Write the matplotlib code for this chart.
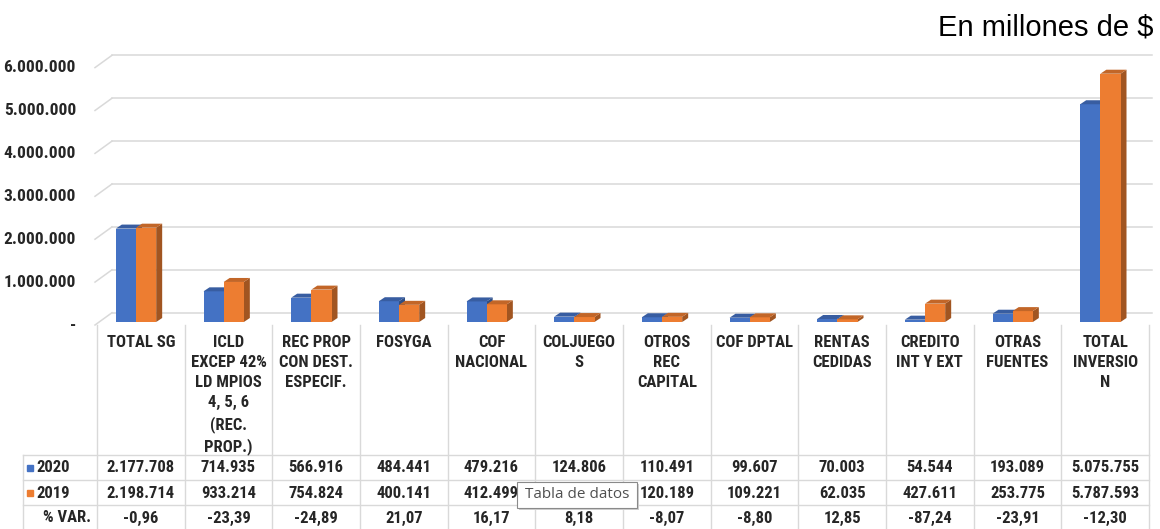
import matplotlib
matplotlib.use("Agg")
import matplotlib.pyplot as plt
from matplotlib import font_manager
from matplotlib.patches import Polygon, Rectangle

# data (values in millions of $)
categories = ["TOTAL SG", "ICLD\nEXCEP 42%\nLD MPIOS\n4, 5, 6\n(REC.\nPROP.)",
              "REC PROP\nCON DEST.\nESPECIF.", "FOSYGA", "COF\nNACIONAL",
              "COLJUEGO\nS", "OTROS\nREC\nCAPITAL", "COF DPTAL", "RENTAS\nCEDIDAS",
              "CREDITO\nINT Y EXT", "OTRAS\nFUENTES", "TOTAL\nINVERSIO\nN"]
vals_2020 = [2177708, 714935, 566916, 484441, 479216, 124806, 110491, 99607,
             70003, 54544, 193089, 5075755]
# COLJUEGOS 2019 is hidden under the tooltip; taken from the 8,18 % change
vals_2019 = [2198714, 933214, 754824, 400141, 412499, 115369, 120189, 109221,
             62035, 427611, 253775, 5787593]
pct_var = [-0.96, -23.39, -24.89, 21.07, 16.17, 8.18, -8.07, -8.80, 12.85,
           -87.24, -23.91, -12.30]
yticks = [0, 1000000, 2000000, 3000000, 4000000, 5000000, 6000000]
series_names = ["2020", "2019"]
hidden_2019 = 5   # table cell covered by the "Tabla de datos" tooltip

BLUE = "#4472C4"
ORANGE = "#ED7D31"
GRID = "#D9D9D9"

# pick a condensed font close to Calibri bold
have = {f.name for f in font_manager.fontManager.ttflist}
NARROW = "Liberation Sans"
scale = 0.85
for cand in ["Liberation Sans Narrow", "Roboto Condensed", "Open Sans Condensed",
             "DejaVu Sans Condensed"]:
    if cand in have:
        NARROW = cand
        scale = 1.0
        break
SANS = "Liberation Sans" if "Liberation Sans" in have else "DejaVu Sans"
TIP = "Open Sans" if "Open Sans" in have else SANS


def shade(c, f):
    r, g, b = matplotlib.colors.to_rgb(c)
    return (r * f, g * f, b * f)


def thousands(v):
    if v == 0:
        return "-"
    return f"{v:,}".replace(",", ".")


def pct(v):
    return f"{v:.2f}".replace(".", ",")


W, H = 1160, 529
fig = plt.figure(figsize=(W / 100, H / 100), dpi=100)

# plot area geometry (pixels)
x_left, x_right = 97, 1149
base_px = 322
ppu = 42.9 / 1e6           # pixels per unit of value
ymax = 6.5e6
n = len(categories)
px_x = (x_right - x_left) / n

ax = fig.add_axes([x_left / W, (H - base_px) / H, (x_right - x_left) / W, ymax * ppu / H])
ax.set_xlim(-0.5, n - 0.5)
ax.set_ylim(0, ymax)
ax.axis("off")

dxu = lambda p: p / px_x    # pixel -> x data
dyu = lambda p: p / ppu     # pixel -> y data

# 3D-ish walls: slanted left end + back gridlines
for v in yticks:
    fy0 = v - dyu(3)
    by = v + dyu(9.3)
    ax.plot([-0.5 - dxu(2), -0.5 + dxu(15)], [fy0, by], color=GRID, lw=1.1,
            clip_on=False, zorder=1)
    ax.plot([-0.5 + dxu(15), n - 0.5 + dxu(3)], [by, by], color=GRID, lw=1.1,
            clip_on=False, zorder=1)
    ax.text(-0.5 - dxu(21), fy0, thousands(v), ha="right", va="center",
            fontsize=12.5 * scale, fontweight="bold", family=NARROW, color="#262626")

# bars with a top and side face
bw = 0.23
ddx, ddy = dxu(6), dyu(4)
xs = list(range(n))
for k, (vals, col, off) in enumerate([(vals_2020, BLUE, -0.17), (vals_2019, ORANGE, 0.06)]):
    z = 2 + k
    ax.bar([x + off for x in xs], vals, width=bw, color=col, zorder=z + 0.1, clip_on=False)
    for x, v in zip(xs, vals):
        x0 = x + off - bw / 2
        x1 = x + off + bw / 2
        side = Polygon([(x1, 0), (x1, v), (x1 + ddx, v + ddy), (x1 + ddx, ddy)],
                       closed=True, color=shade(col, 0.68), zorder=z, lw=0, clip_on=False)
        top = Polygon([(x0, v), (x0 + ddx, v + ddy), (x1 + ddx, v + ddy), (x1, v)],
                      closed=True, color=shade(col, 0.82), zorder=z + 0.2, lw=0, clip_on=False)
        ax.add_patch(side)
        ax.add_patch(top)

fig.text(1153 / W, 1 - 35 / H, "En millones de $", ha="right", va="baseline",
         fontsize=21, family=SANS, color="black")

# data table below the plot
tab_top = 325
tab = fig.add_axes([x_left / W, 0, (x_right - x_left) / W, (H - tab_top) / H])
tab.set_xlim(-0.5, n - 0.5)
tab.set_ylim(H, tab_top)
tab.axis("off")

tx = lambda p: -0.5 + (p - x_left) / px_x
rows = [455, 480, 505]
lab_left = tx(23)

for k in range(n + 1):
    tab.plot([k - 0.5, k - 0.5], [tab_top, H], color=GRID, lw=1, clip_on=False)
tab.plot([lab_left, lab_left], [rows[0], H], color=GRID, lw=1, clip_on=False)
for r in rows:
    tab.plot([lab_left, n - 0.5], [r, r], color=GRID, lw=1, clip_on=False)

tfont = dict(fontsize=12 * scale, fontweight="bold", family=NARROW, color="#262626")
for i, c in enumerate(categories):
    tab.text(i, 335, c, ha="center", va="top", linespacing=1.42, **tfont)
    tab.text(i, 468, thousands(vals_2020[i]), ha="center", va="center", **tfont)
    if i != hidden_2019:
        tab.text(i, 493, thousands(vals_2019[i]), ha="center", va="center", **tfont)
    tab.text(i, 518, pct(pct_var[i]), ha="center", va="center", **tfont)

for name, col, yc in [(series_names[0], BLUE, 468), (series_names[1], ORANGE, 493)]:
    tab.add_patch(Rectangle((tx(27), yc - 3), dxu(6), 6, color=col, clip_on=False))
    tab.text(tx(36), yc, name, ha="left", va="center", **tfont)
tab.text(tx(91), 518, "% VAR.", ha="right", va="center", **tfont)

# tooltip seen in the screenshot
tab.add_patch(Rectangle((tx(519), 484), dxu(120), 26, color="#cfcfcf", lw=0,
                        zorder=9, clip_on=False))
tab.add_patch(Rectangle((tx(517), 482), dxu(120), 26, facecolor="white",
                        edgecolor="#8a8a8a", lw=0.8, zorder=10, clip_on=False))
tab.text(tx(577), 495, "Tabla de datos", ha="center", va="center", fontsize=11,
         family=TIP, color="#505050", zorder=11)

fig.savefig("out.png", dpi=100)
